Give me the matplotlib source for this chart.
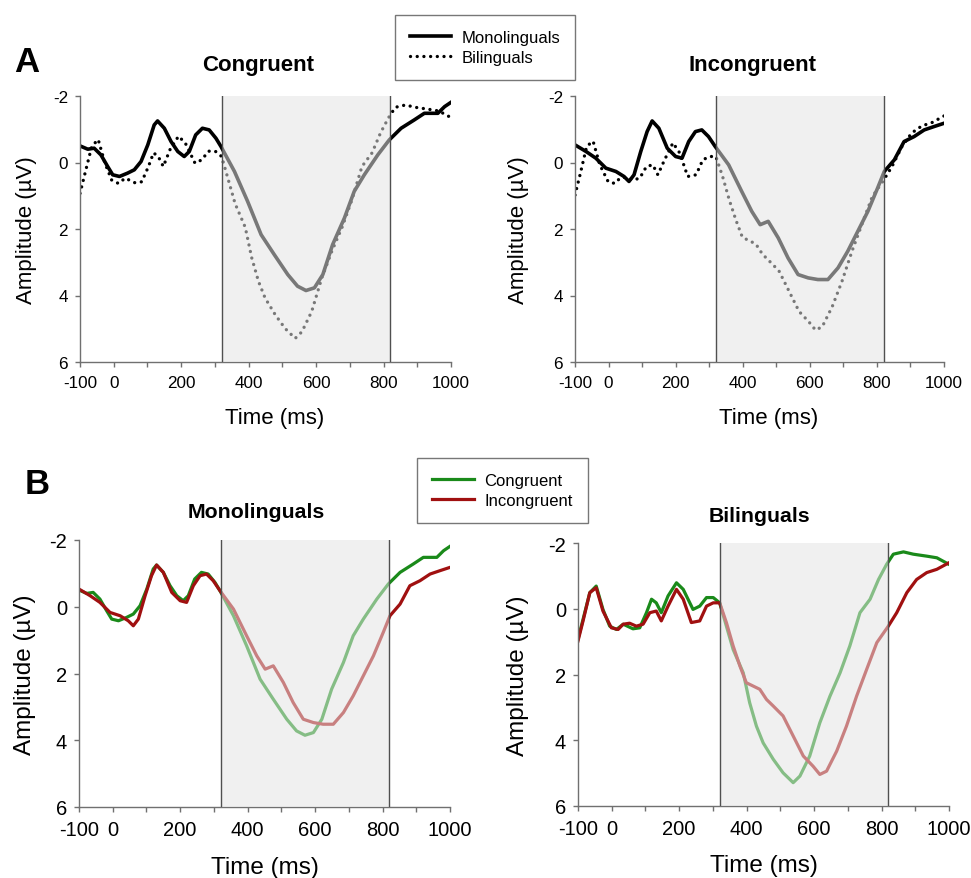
import matplotlib.pyplot as plt

plt.rcParams['font.family'] = ['Liberation Sans', 'DejaVu Sans']
plt.rcParams['axes.unicode_minus'] = False

# ERP waveforms (time in ms, amplitude in µV)
mono_con_t = [-100, -77, -58, -38, -18, -3, 17, 41, 61, 81, 101, 120, 130, 150, 170, 190,
              209, 224, 243, 263, 283, 303, 318, 358, 397, 437, 476, 516, 545, 570, 595,
              620, 649, 684, 713, 743, 783, 817, 852, 891, 921, 961, 981, 1000]
mono_con_v = [-0.5, -0.4, -0.43, -0.23, 0.12, 0.37, 0.42, 0.32, 0.22, -0.03, -0.53, -1.13,
              -1.25, -1.03, -0.63, -0.33, -0.18, -0.33, -0.83, -1.03, -0.98, -0.73, -0.48,
              0.27, 1.17, 2.17, 2.77, 3.37, 3.72, 3.85, 3.77, 3.37, 2.47, 1.67, 0.87, 0.37,
              -0.23, -0.68, -1.03, -1.28, -1.48, -1.48, -1.68, -1.81]

mono_inc_t = [-100, -67, -38, -8, 22, 46, 61, 76, 96, 115, 130, 150, 175, 200, 219, 239,
              259, 278, 298, 318, 358, 397, 427, 452, 476, 506, 535, 565, 595, 624, 654,
              684, 713, 743, 773, 802, 822, 852, 881, 911, 941, 970, 1000]
mono_inc_v = [-0.53, -0.33, -0.13, 0.17, 0.27, 0.42, 0.57, 0.37, -0.33, -0.93, -1.25, -1.03,
              -0.43, -0.18, -0.13, -0.63, -0.93, -0.98, -0.78, -0.48, 0.07, 0.87, 1.47,
              1.87, 1.77, 2.27, 2.87, 3.37, 3.47, 3.52, 3.52, 3.17, 2.67, 2.07, 1.47, 0.77,
              0.27, -0.08, -0.63, -0.78, -0.98, -1.08, -1.18]

bi_con_t = [-100, -85, -65, -46, -26, -6, 14, 34, 63, 83, 103, 118, 132, 147, 167, 192,
            212, 241, 261, 281, 301, 320, 340, 360, 390, 409, 429, 449, 479, 508, 538, 558,
            587, 617, 647, 677, 706, 736, 766, 791, 815, 835, 865, 894, 934, 964, 1000]
bi_con_v = [0.93, 0.32, -0.49, -0.69, 0.02, 0.53, 0.63, 0.47, 0.61, 0.58, 0.12, -0.29,
            -0.18, 0.12, -0.39, -0.79, -0.59, 0.02, -0.08, -0.34, -0.34, -0.18, 0.53, 1.24,
            1.95, 2.86, 3.57, 4.08, 4.58, 4.99, 5.29, 5.09, 4.48, 3.47, 2.66, 1.95, 1.13,
            0.12, -0.29, -0.89, -1.35, -1.66, -1.73, -1.66, -1.6, -1.55, -1.35]

bi_inc_t = [-100, -85, -65, -46, -26, -1, 19, 34, 53, 73, 93, 113, 132, 147, 167, 192,
            212, 236, 261, 281, 301, 320, 340, 360, 380, 399, 419, 439, 459, 479, 508, 538,
            568, 597, 617, 637, 667, 696, 726, 756, 786, 820, 845, 875, 904, 934, 964, 1000]
bi_inc_v = [0.98, 0.37, -0.49, -0.64, 0.07, 0.58, 0.63, 0.47, 0.44, 0.53, 0.47, 0.12,
            0.07, 0.37, -0.08, -0.59, -0.29, 0.42, 0.37, -0.08, -0.18, -0.18, 0.42, 1.13,
            1.74, 2.25, 2.35, 2.45, 2.76, 2.96, 3.26, 3.87, 4.48, 4.79, 5.04, 4.94, 4.33,
            3.57, 2.66, 1.84, 1.03, 0.53, 0.12, -0.49, -0.89, -1.1, -1.2, -1.4]

window = (320, 820)
x_ticks = list(range(-100, 1001, 100))
x_labels = ['-100', '0', '', '200', '', '400', '', '600', '', '800', '', '1000']
y_ticks = [-2, 0, 2, 4, 6]

GREEN = '#1a8a1a'
RED = '#a01010'
SHADE = '#f0f0f0'


def style_axes(ax, tick_size):
    ax.set_xlim(-100, 1000)
    ax.set_ylim(6, -2)
    ax.set_xticks(x_ticks)
    ax.set_xticklabels(x_labels)
    ax.set_yticks(y_ticks)
    ax.spines['top'].set_visible(False)
    ax.spines['right'].set_visible(False)
    for s in ('left', 'bottom'):
        ax.spines[s].set_color('#707070')
        ax.spines[s].set_linewidth(1.0)
    ax.tick_params(direction='out', length=3.6, width=1, color='#707070',
                   labelsize=tick_size)
    ax.tick_params(axis='x', pad=6)
    ax.tick_params(axis='y', pad=5)
    ax.axvspan(*window, color=SHADE, zorder=0, lw=0)
    # translucent veil over the traces inside the analysis window
    ax.axvspan(*window, color=SHADE, alpha=0.5, zorder=3, lw=0)
    for xv in window:
        ax.axvline(xv, color='#505050', lw=1.0, zorder=4)


def labels(ax, title, title_x, title_y, ylab_x, xlab_x, xlab_y, lab_size, title_size):
    ax.text(title_x, title_y, title, transform=ax.transAxes, ha='center', va='center',
            fontsize=title_size, fontweight='bold')
    ax.set_ylabel('Amplitude (µV)', fontsize=lab_size)
    ax.yaxis.set_label_coords(ylab_x, 0.5)
    ax.yaxis.label.set_verticalalignment('center')
    ax.set_xlabel('Time (ms)', fontsize=lab_size)
    ax.xaxis.set_label_coords(xlab_x, xlab_y)
    ax.xaxis.label.set_verticalalignment('center')


fig = plt.figure(figsize=(9.71, 8.79), dpi=100)
W, H = 971, 879


def add_ax(l, t, r, b):
    return fig.add_axes([l / W, 1 - b / H, (r - l) / W, (b - t) / H])


axA1 = add_ax(80, 97, 451, 363)
axA2 = add_ax(575, 97, 944, 363)
axB1 = add_ax(79, 541, 450, 808)
axB2 = add_ax(578, 544, 949, 807)

dot = dict(color='black', lw=2.4, linestyle=(0, (0.01, 2.0)), dash_capstyle='round', zorder=2)
solid = dict(color='black', lw=2.6, zorder=2, solid_joinstyle='round')

h_mono, = axA1.plot(mono_con_t, mono_con_v, label='Monolinguals', **solid)
h_bi, = axA1.plot(bi_con_t, bi_con_v, label='Bilinguals', **dot)
axA2.plot(mono_inc_t, mono_inc_v, **solid)
axA2.plot(bi_inc_t, bi_inc_v, **dot)

h_con, = axB1.plot(mono_con_t, mono_con_v, color=GREEN, lw=2.3, zorder=2, label='Congruent')
h_inc, = axB1.plot(mono_inc_t, mono_inc_v, color=RED, lw=2.3, zorder=2, label='Incongruent')
axB2.plot(bi_con_t, bi_con_v, color=GREEN, lw=2.3, zorder=2)
axB2.plot(bi_inc_t, bi_inc_v, color=RED, lw=2.3, zorder=2)

for ax in (axA1, axA2):
    style_axes(ax, 12.3)
for ax in (axB1, axB2):
    style_axes(ax, 14.5)

labels(axA1, 'Congruent', 0.48, 1.12, -0.143, 0.525, -0.21, 16, 16)
labels(axA2, 'Incongruent', 0.48, 1.12, -0.154, 0.525, -0.21, 16, 16)
labels(axB1, 'Monolinguals', 0.477, 1.105, -0.146, 0.5, -0.225, 17.5, 15.3)
labels(axB2, 'Bilinguals', 0.488, 1.106, -0.162, 0.5, -0.225, 17.5, 15.3)

fig.text(27 / W, 1 - 62 / H, 'A', fontsize=25, fontweight='bold', ha='center', va='center')
fig.text(37 / W, 1 - 485 / H, 'B', fontsize=25, fontweight='bold', ha='center', va='center')

leg_kw = dict(loc='center', frameon=True, fancybox=False, fontsize=12, handlelength=2.5,
              handletextpad=0.6, borderpad=0.9, labelspacing=0.3, borderaxespad=0)
legA = fig.legend([h_mono, h_bi], ['Monolinguals', 'Bilinguals'],
                  bbox_to_anchor=(485 / W, 1 - 48.5 / H), **leg_kw)
legB = fig.legend([h_con, h_inc], ['Congruent', 'Incongruent'],
                  bbox_to_anchor=(502.5 / W, 1 - 491.5 / H), **leg_kw)
for leg in (legA, legB):
    leg.get_frame().set_edgecolor('#555555')
    leg.get_frame().set_linewidth(1.0)

fig.savefig('out.png', dpi=100)
